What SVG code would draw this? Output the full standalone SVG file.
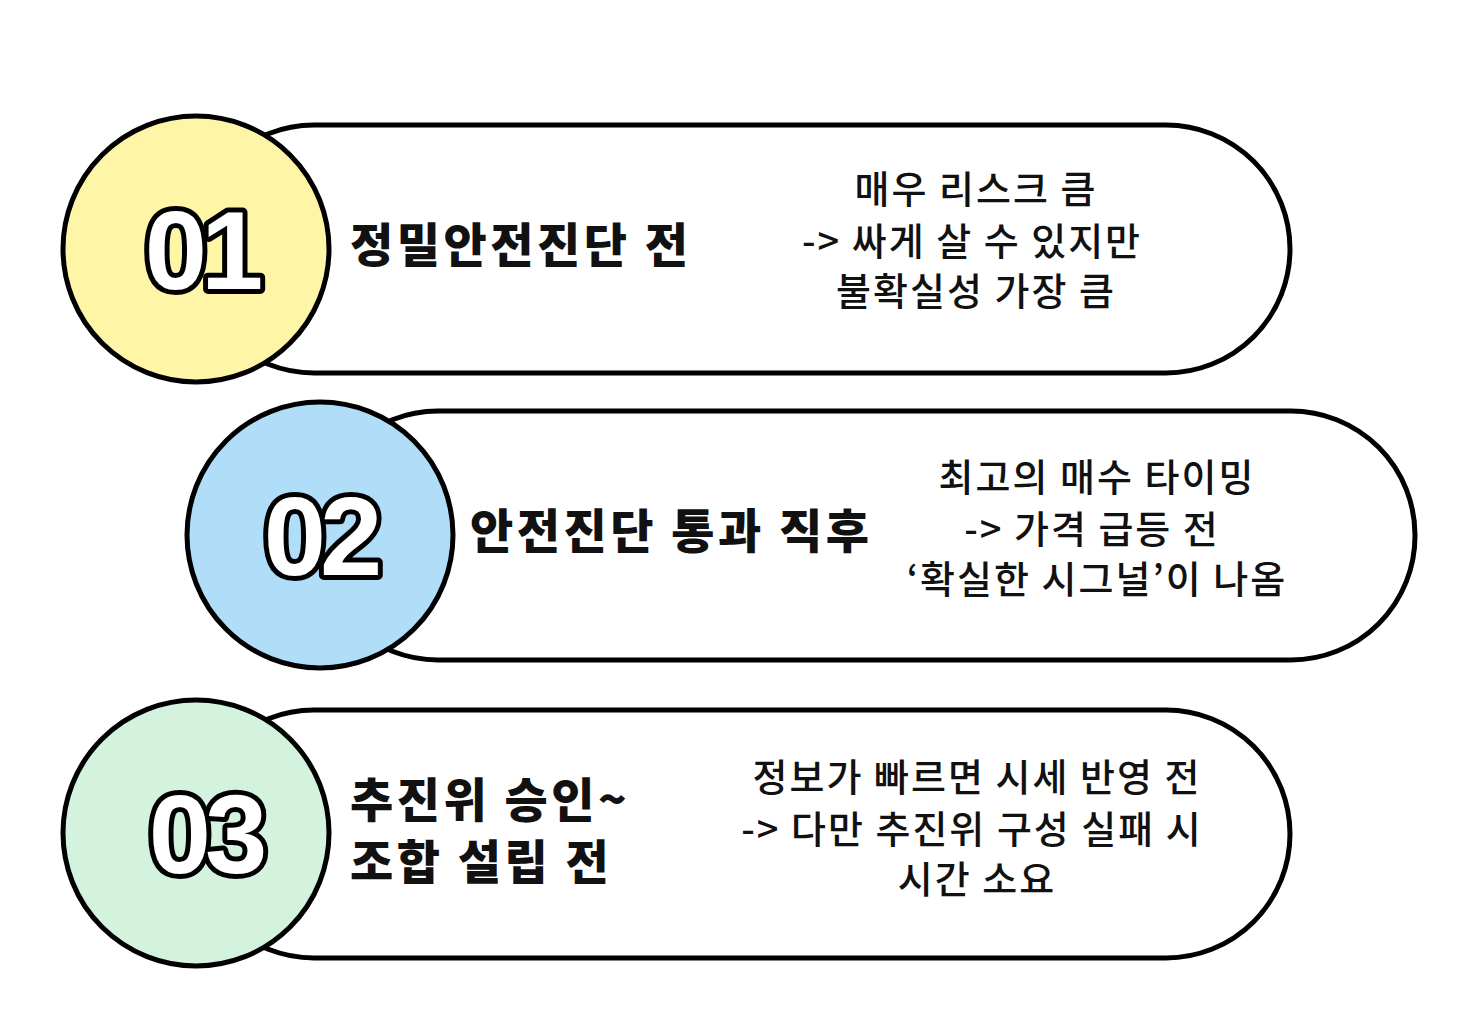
<svg xmlns="http://www.w3.org/2000/svg" width="1483" height="1011" viewBox="0 0 1483 1011">
<style>
.pill{fill:#fff;stroke:#000;stroke-width:5}
.circ{stroke:#000;stroke-width:5}
.num{font-family:"Liberation Sans Narrow","Liberation Sans",sans-serif;font-weight:bold;font-size:112px;fill:#fff;stroke:#000;stroke-width:10;stroke-linejoin:round;paint-order:stroke;text-anchor:middle;letter-spacing:-6px}
.title{font-family:"Noto Sans CJK KR",sans-serif;font-weight:900;font-size:47px;fill:#111;letter-spacing:3.5px}
.desc{font-family:"Noto Sans CJK KR",sans-serif;font-weight:500;font-size:38px;fill:#111;text-anchor:middle;letter-spacing:2px}
</style>
<rect width="1483" height="1011" fill="#fff"/>
<g id="node1">
<rect class="pill" x="190" y="125" width="1100" height="248" rx="124"/>
<circle class="circ" cx="196" cy="249" r="133" fill="#fef6a6"/>
<text class="num" x="201" y="289">01</text>
<text class="title" x="350" y="262">정밀안전진단 전</text>
<text class="desc" x="976" y="203">매우 리스크 큼</text>
<text class="desc" x="972" y="255">-&gt; 싸게 살 수 있지만</text>
<text class="desc" x="976" y="305">불확실성 가장 큼</text>
</g>
<g id="node2">
<rect class="pill" x="314" y="411" width="1101" height="249" rx="124"/>
<circle class="circ" cx="320" cy="535" r="133" fill="#b0def9"/>
<text class="num" x="320" y="575">02</text>
<text class="title" x="470" y="548">안전진단 통과 직후</text>
<text class="desc" x="1097" y="491">최고의 매수 타이밍</text>
<text class="desc" x="1092" y="543">-&gt; 가격 급등 전</text>
<text class="desc" x="1097" y="593">‘확실한 시그널’이 나옴</text>
</g>
<g id="node3">
<rect class="pill" x="190" y="710" width="1100" height="248" rx="124"/>
<circle class="circ" cx="196" cy="833" r="133" fill="#d3f3df"/>
<text class="num" x="205" y="873">03</text>
<text class="title" x="350" y="817">추진위 승인~</text>
<text class="title" x="350" y="879">조합 설립 전</text>
<text class="desc" x="977" y="791">정보가 빠르면 시세 반영 전</text>
<text class="desc" x="972" y="843">-&gt; 다만 추진위 구성 실패 시</text>
<text class="desc" x="977" y="893">시간 소요</text>
</g>
<g id="connectors"/>
</svg>
